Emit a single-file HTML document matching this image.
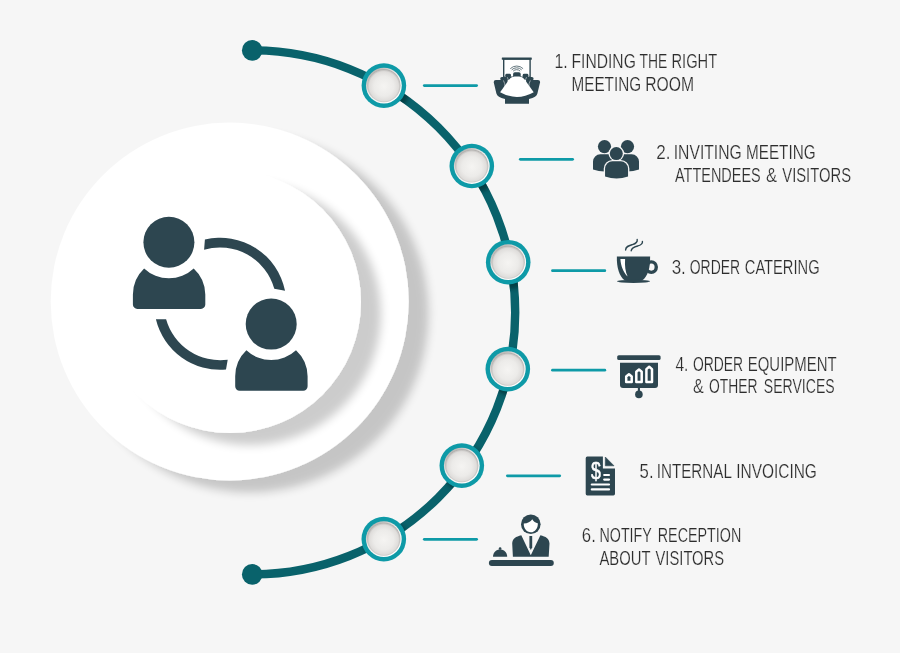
<!DOCTYPE html>
<html lang="en">
<head>
<meta charset="utf-8">
<title>Meeting booking process</title>
<style>
html,body{margin:0;padding:0;background:#f6f6f6;width:900px;height:653px;overflow:hidden}
svg{display:block;position:absolute;left:0;top:0}
.lbl{font-family:"Liberation Sans",sans-serif;font-size:20.8px;fill:#2d2d2d;stroke:#f6f6f6;stroke-width:0.22px;opacity:0.999}
</style>
</head>
<body>
<svg width="900" height="653" viewBox="0 0 900 653">
<defs>
  <filter id="sh" x="-20%" y="-20%" width="150%" height="150%">
    <feGaussianBlur in="SourceAlpha" stdDeviation="4.6"/>
    <feOffset dx="19.5" dy="11.5" result="b"/>
    <feComponentTransfer><feFuncA type="linear" slope="0.2"/></feComponentTransfer>
    <feMerge><feMergeNode/><feMergeNode in="SourceGraphic"/></feMerge>
  </filter>
  <radialGradient id="ball" cx="50%" cy="52%" r="50%">
    <stop offset="0" stop-color="#f5f4f2"/>
    <stop offset="0.6" stop-color="#ecebe9"/>
    <stop offset="0.88" stop-color="#dfdddb"/>
    <stop offset="0.97" stop-color="#c4c2c0"/>
    <stop offset="1" stop-color="#b4b2b0"/>
  </radialGradient>
  <linearGradient id="rim" x1="0.2" y1="0.1" x2="0.8" y2="0.9">
    <stop offset="0" stop-color="#b8b6b4"/>
    <stop offset="0.4" stop-color="#efeeed"/>
    <stop offset="1" stop-color="#ffffff"/>
  </linearGradient>
  <filter id="nb" x="-50%" y="-50%" width="200%" height="200%">
    <feGaussianBlur stdDeviation="2.2"/>
  </filter>
  <mask id="arcm" maskUnits="userSpaceOnUse" x="230" y="30" width="300" height="570">
    <path d="M252.2 50.4A263 262 0 0 1 252.2 574.4" fill="none" stroke="#fff" stroke-width="8.4"/>
  </mask>
  <g id="node">
    <circle r="22.3" fill="#0e9aa7"/>
    <circle r="17.9" fill="url(#rim)"/>
    <circle r="16.6" fill="url(#ball)"/>
  </g>
</defs>
<rect width="900" height="653" fill="#f6f6f6"/>

<!-- big circles -->
<circle cx="229.7" cy="301.5" r="179" fill="#fff" filter="url(#sh)"/>
<circle cx="230" cy="302" r="131" fill="#fff" filter="url(#sh)"/>


<!-- central icon: two people exchanging -->
<g fill="#2d4650">
  <circle cx="168.9" cy="242.3" r="25.5"/>
  <path d="M144.1 268.4A36.2 36.2 0 0 0 193.7 268.4A36 36 0 0 1 205.3 294.5V304.5A4.4 4.4 0 0 1 200.9 308.9H137.3A4.4 4.4 0 0 1 132.9 304.5V294.5A36 36 0 0 1 144.1 268.4Z"/>
  <circle cx="271.2" cy="324.1" r="25.5"/>
  <path transform="translate(102.3 81.8)" d="M144.1 268.4A36.2 36.2 0 0 0 193.7 268.4A36 36 0 0 1 205.3 294.5V304.5A4.4 4.4 0 0 1 200.9 308.9H137.3A4.4 4.4 0 0 1 132.9 304.5V294.5A36 36 0 0 1 144.1 268.4Z"/>
  <path d="M204.9 239.5A66.15 66.15 0 0 1 285.05 290.8L274.3 288.7A56.35 56.35 0 0 0 204.1 249.7Z"/>
  <path d="M155.9 319.3A66.15 66.15 0 0 0 226 369.6L227.7 359.8A56.35 56.35 0 0 1 166.1 319.3Z"/>
</g>

<!-- arc -->
<path d="M252.2 50.4 A263 262 0 0 1 252.2 574.4" fill="none" stroke="#09626b" stroke-width="8.4"/>
<circle cx="252.2" cy="50.4" r="10.3" fill="#09626b"/>
<circle cx="252.2" cy="574.4" r="10.3" fill="#09626b"/>

<!-- node shadows falling on the arc -->
<g mask="url(#arcm)">
  <g fill="#00252b" opacity="0.6" filter="url(#nb)">
    <circle cx="387.4" cy="89.6" r="22.5"/>
    <circle cx="475.3" cy="170" r="22.5"/>
    <circle cx="511.7" cy="266.2" r="22.5"/>
    <circle cx="511.3" cy="373.1" r="22.5"/>
    <circle cx="465.3" cy="469.6" r="22.5"/>
    <circle cx="387.3" cy="543.1" r="22.5"/>
  </g>
</g>

<!-- nodes -->
<use href="#node" x="383.9" y="85.6"/>
<use href="#node" x="471.8" y="166"/>
<use href="#node" x="508.2" y="262.2"/>
<use href="#node" x="507.8" y="369.1"/>
<use href="#node" x="461.8" y="465.6"/>
<use href="#node" x="383.8" y="539.1"/>

<!-- connector lines -->
<g stroke="#0e9aa7" stroke-width="2.8" stroke-linecap="round" fill="none">
  <path d="M424.3 85.6H476.6"/>
  <path d="M520.3 159.3H572.6"/>
  <path d="M552.5 270.7H604.8"/>
  <path d="M552.5 370.2H604.8"/>
  <path d="M507.4 475.8H559.7"/>
  <path d="M424.3 539.3H476.6"/>
</g>


<!-- icon 1: meeting room -->
<g id="ic1" fill="#2d4650">
  <rect x="501.8" y="57.5" width="30" height="2.3" rx="0.5"/>
  <rect x="503.7" y="59.2" width="26.4" height="18" fill="#fff" stroke="#2d4650" stroke-width="1.4"/>
  <g fill="none" stroke="#2d4650" stroke-width="0.85" opacity="0.85">
    <path d="M513.2 71.1A5 5 0 0 1 520.2 71.1"/>
    <path d="M511.7 69.9A7 7 0 0 1 521.7 69.9"/>
    <path d="M510.3 68.7A9 9 0 0 1 523.1 68.7"/>
  </g>
  <path d="M513.1 78V74.1A1.8 1.8 0 0 1 514.9 72.3H518.9A1.8 1.8 0 0 1 520.7 74.1V78Z"/>
  <path d="M505.3 75.2A1.4 1.4 0 0 1 506.7 73.8H509.6A1.4 1.4 0 0 1 511 75.2L510.2 80H506.6Z"/>
  <path d="M528.4 75.2A1.4 1.4 0 0 0 527 73.8H524.1A1.4 1.4 0 0 0 522.7 75.2L523.5 80H527.1Z"/>
  <path d="M500.2 78.6A1.7 1.7 0 0 1 501.9 76.9H506.2A1.7 1.7 0 0 1 507.9 78.6L507.4 86H502.4Z"/>
  <path d="M533.6 78.6A1.7 1.7 0 0 0 531.9 76.9H527.6A1.7 1.7 0 0 0 525.9 78.6L526.4 86H531.4Z"/>
  <path d="M493.7 82.2A2.2 2.2 0 0 1 495.9 79.9H502.1A2.2 2.2 0 0 1 504.3 82.1L506 90H528L529.5 82.1A2.2 2.2 0 0 1 531.7 79.9H537.9A2.2 2.2 0 0 1 540.1 82.2L537.4 93.4Q536.8 97 529 98.9V103.8H505V98.9Q497.2 97 496.4 93.4Z"/>
  <g fill="none" stroke="#f6f6f6" stroke-width="0.6" opacity="0.9">
    <path d="M507.3 77.2Q508.6 79.6 508.3 82"/>
    <path d="M526.5 77.2Q525.2 79.6 525.5 82"/>
    <path d="M503.4 80.4Q505.2 83.6 505 87"/>
    <path d="M530.4 80.4Q528.6 83.6 528.8 87"/>
  </g>
  <path d="M514.6 76.6H519.2Q522.2 76.6 524.6 79.6L533.7 92.2Q516.9 101.6 500.1 92.2L509.2 79.6Q511.6 76.6 514.6 76.6Z" fill="#fff"/>
</g>

<!-- icon 2: attendees -->
<g id="ic2" fill="#2d4650">
  <g id="pers">
    <circle cx="604.5" cy="146.6" r="6.6"/>
    <path d="M593 169.5V161.6A7.3 7.3 0 0 1 600.3 154.3H608.7A7.3 7.3 0 0 1 616 161.6V169.5Q604.5 173.5 593 169.5Z"/>
  </g>
  <use href="#pers" x="23"/>
  <g stroke="#f6f6f6" stroke-width="2.6" paint-order="stroke">
    <circle cx="616.3" cy="153.6" r="6.5"/>
    <path d="M605.05 176.5V168.6A7.3 7.3 0 0 1 612.35 161.3H620.75A7.3 7.3 0 0 1 628.05 168.6V176.5Q616.55 180.5 605.05 176.5Z"/>
  </g>
</g>

<!-- icon 3: coffee cup -->
<g id="ic3" fill="#2d4650">
  <ellipse cx="651.3" cy="267.1" rx="5" ry="5.25" fill="none" stroke="#2d4650" stroke-width="3.4"/>
  <path d="M616.9 256.5H650.1C650.5 268 647.6 276.6 642 280.6H625C619.4 276.6 616.5 268 616.9 256.5Z"/>
  <ellipse cx="633.5" cy="281.3" rx="16.6" ry="1.6"/>
  <path d="M620.4 258.9H625.1C624.6 266 625.4 271.5 627.6 276.6C623.4 272 620.7 266 620.4 258.9Z" fill="#fff"/>
  <g fill="none" stroke="#2d4650" stroke-width="1.4" stroke-linecap="round">
    <path d="M625.6 250.1C625.6 246.4 629 245.6 632.4 244.6C635.9 243.6 637.7 242.6 637.2 239.5"/>
    <path d="M631.2 250.7C631.4 247.6 634.6 246.8 637.9 245.9C641.1 245 642.9 244.1 642.4 241.5"/>
  </g>
</g>

<!-- icon 4: presentation board -->
<g id="ic4" fill="#2d4650">
  <rect x="617.2" y="355.2" width="43.4" height="4.8" rx="1.6"/>
  <path d="M620 362.7H658V385.1A3 3 0 0 1 655 388.1H623A3 3 0 0 1 620 385.1Z"/>
  <rect x="637.85" y="387" width="2.1" height="5"/>
  <circle cx="638.9" cy="394.4" r="3.8"/>
  <g fill="none" stroke="#fff" stroke-width="2.5" stroke-linejoin="round">
    <path d="M626.2 381.9V376.5L628.95 374.3L631.7 376.5V381.9Z"/>
    <path d="M636.3 381.9V371.7L639 369.5L641.7 371.7V381.9Z"/>
    <path d="M646.4 381.9V369.1L649.2 366.8L652 369.1V381.9Z"/>
  </g>
</g>

<!-- icon 5: invoice -->
<g id="ic5" fill="#2d4650">
  <path d="M587.3 456.6H602.9V468.5H615V493.8A1.6 1.6 0 0 1 613.4 495.4H587.3A1.6 1.6 0 0 1 585.7 493.8V458.2A1.6 1.6 0 0 1 587.3 456.6Z"/>
  <path d="M605.3 457V465.8H614Z" stroke="#2d4650" stroke-width="0.6" stroke-linejoin="round"/>
  <text x="0" y="478.7" text-anchor="middle" font-family="'Liberation Sans',sans-serif" font-size="23" fill="#fff" stroke="#fff" stroke-width="0.5" opacity="0.999" transform="translate(595.8 0) scale(0.77 1)">$</text>
  <g stroke="#fff" stroke-width="2.2" stroke-linecap="round">
    <path d="M604.2 475H609"/>
    <path d="M604.2 479.6H609"/>
    <path d="M591.8 484.5H609"/>
    <path d="M591.8 489.4H609"/>
  </g>
</g>

<!-- icon 6: reception -->
<g id="ic6" fill="#2d4650">
  <rect x="488.9" y="560" width="64.9" height="5.9" rx="2.95"/>
  <circle cx="530.8" cy="524.2" r="9.8"/>
  <path d="M523.8 523.6C527.5 523.4 530.6 521.6 532.3 519.2C533.4 521.4 535.6 522.8 537.8 523.2C538.2 528 535 532.3 530.8 532.3C526.6 532.3 523.4 528.2 523.8 523.6Z" fill="#fff"/>
  <path d="M521.3 535.3C516 536.6 512.4 538.6 512.2 543.5L512.9 556.7H548.7L549.5 543.5C549.3 538.6 545.7 536.6 540.4 535.3L530.8 555.2Z"/>
  <path d="M529.4 535.9H532.2V547.2L530.8 549.9L529.4 547.2Z"/>
  <path d="M493 556.7C493 552 496.4 549.4 500.1 549.4C503.8 549.4 507.2 552 507.2 556.7Z"/>
  <circle cx="500.1" cy="548.6" r="1.3"/>
</g>

<!-- labels -->
<g class="lbl">
  <text x="554.50" y="68.4" textLength="13.30" lengthAdjust="spacingAndGlyphs">1.</text>
  <text x="571.51" y="68.4" textLength="64.32" lengthAdjust="spacingAndGlyphs">FINDING</text>
  <text x="639.51" y="68.4" textLength="27.83" lengthAdjust="spacingAndGlyphs">THE</text>
  <text x="671.51" y="68.4" textLength="45.68" lengthAdjust="spacingAndGlyphs">RIGHT</text>
  <text x="571.51" y="91.0" textLength="69.57" lengthAdjust="spacingAndGlyphs">MEETING</text>
  <text x="645.23" y="91.0" textLength="48.83" lengthAdjust="spacingAndGlyphs">ROOM</text>
  <text x="656.34" y="159.0" textLength="14.25" lengthAdjust="spacingAndGlyphs">2.</text>
  <text x="673.76" y="159.0" textLength="67.99" lengthAdjust="spacingAndGlyphs">INVITING</text>
  <text x="746.02" y="159.0" textLength="69.57" lengthAdjust="spacingAndGlyphs">MEETING</text>
  <text x="675.01" y="181.6" textLength="85.70" lengthAdjust="spacingAndGlyphs">ATTENDEES</text>
  <text x="765.94" y="181.6" textLength="11.08" lengthAdjust="spacingAndGlyphs">&amp;</text>
  <text x="782.26" y="181.6" textLength="68.86" lengthAdjust="spacingAndGlyphs">VISITORS</text>
  <text x="671.63" y="274.3" textLength="14.20" lengthAdjust="spacingAndGlyphs">3.</text>
  <text x="689.76" y="274.3" textLength="50.41" lengthAdjust="spacingAndGlyphs">ORDER</text>
  <text x="744.77" y="274.3" textLength="74.85" lengthAdjust="spacingAndGlyphs">CATERING</text>
  <text x="675.45" y="370.9" textLength="13.00" lengthAdjust="spacingAndGlyphs">4.</text>
  <text x="693.01" y="370.9" textLength="50.15" lengthAdjust="spacingAndGlyphs">ORDER</text>
  <text x="747.79" y="370.9" textLength="88.80" lengthAdjust="spacingAndGlyphs">EQUIPMENT</text>
  <text x="692.97" y="393.4" textLength="10.79" lengthAdjust="spacingAndGlyphs">&amp;</text>
  <text x="709.01" y="393.4" textLength="48.57" lengthAdjust="spacingAndGlyphs">OTHER</text>
  <text x="763.77" y="393.4" textLength="70.92" lengthAdjust="spacingAndGlyphs">SERVICES</text>
  <text x="639.61" y="477.6" textLength="13.95" lengthAdjust="spacingAndGlyphs">5.</text>
  <text x="656.78" y="477.6" textLength="75.11" lengthAdjust="spacingAndGlyphs">INTERNAL</text>
  <text x="736.27" y="477.6" textLength="80.60" lengthAdjust="spacingAndGlyphs">INVOICING</text>
  <text x="581.84" y="542.3" textLength="13.99" lengthAdjust="spacingAndGlyphs">6.</text>
  <text x="599.52" y="542.3" textLength="52.25" lengthAdjust="spacingAndGlyphs">NOTIFY</text>
  <text x="657.77" y="542.3" textLength="83.50" lengthAdjust="spacingAndGlyphs">RECEPTION</text>
  <text x="599.51" y="565.0" textLength="50.98" lengthAdjust="spacingAndGlyphs">ABOUT</text>
  <text x="655.51" y="565.0" textLength="68.59" lengthAdjust="spacingAndGlyphs">VISITORS</text>
</g>
</svg>
</body>
</html>
